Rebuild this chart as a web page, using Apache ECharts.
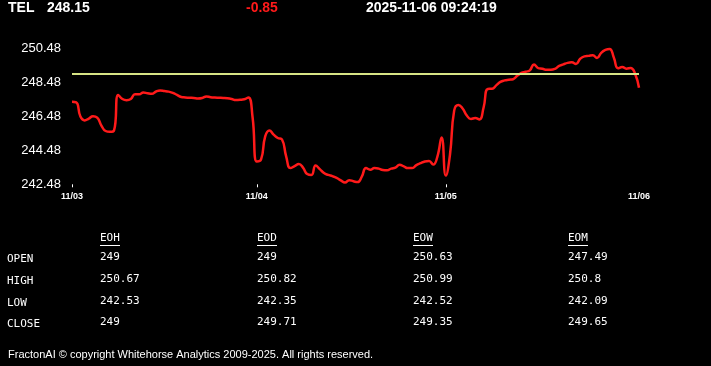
<!DOCTYPE html>
<html>
<head>
<meta charset="utf-8">
<script src="https://cdn.jsdelivr.net/npm/echarts@6/dist/echarts.min.js"></script>
<style>
html,body{margin:0;padding:0;background:#000;}
#chart{width:711px;height:366px;}
</style>
</head>
<body>
<div id="chart"></div>
<script>
// ---- data ----
const symbol = 'TEL';
const lastPrice = '248.15';
const change = '-0.85';
const timestamp = '2025-11-06 09:24:19';
const openLevel = 249;

const dayLabels = ['11/03', '11/04', '11/05', '11/06'];
const dayIndex = [0, 44, 89, 135];
const tickIndex = [0, 44, 89];

const prices = [
  247.32, 247.29, 246.46, 246.23, 246.34, 246.48, 246.40, 245.93, 245.61, 245.56,
  245.64, 247.73, 247.49, 247.42, 247.49, 247.76, 247.76, 247.87, 247.82, 247.79,
  247.93, 247.99, 247.96, 247.92, 247.85, 247.73, 247.61, 247.58, 247.56, 247.55,
  247.52, 247.55, 247.64, 247.59, 247.57, 247.56, 247.55, 247.53, 247.49, 247.43,
  247.44, 247.47, 247.58, 246.40, 243.82, 243.93, 245.29, 245.64, 245.40, 245.20,
  245.11, 244.11, 243.43, 243.55, 243.67, 243.46, 243.08, 243.02, 243.58, 243.37,
  243.14, 243.03, 242.96, 242.86, 242.71, 242.58, 242.72, 242.66, 242.61, 242.93,
  243.43, 243.34, 243.43, 243.40, 243.32, 243.30, 243.40, 243.46, 243.63, 243.53,
  243.43, 243.43, 243.61, 243.72, 243.82, 243.85, 243.64, 244.11, 245.23, 242.99,
  244.23, 246.82, 247.14, 246.93, 246.52, 246.32, 246.37, 246.29, 246.99, 248.08,
  248.09, 248.29, 248.49, 248.58, 248.62, 248.65, 248.85, 249.02, 249.09, 249.17,
  249.52, 249.30, 249.27, 249.20, 249.20, 249.26, 249.43, 249.52, 249.61, 249.64,
  249.55, 249.85, 249.99, 250.02, 250.05, 249.90, 250.20, 250.37, 250.43, 249.93,
  249.29, 249.37, 249.27, 249.31, 249.02, 248.15
];

const yTickLabels = [242.48, 244.48, 246.48, 248.48, 250.48];
const yMin = 242.48;
const yMax = 250.70;

const tableCols = ['EOH', 'EOD', 'EOW', 'EOM'];
const rowNames = ['OPEN', 'HIGH', 'LOW', 'CLOSE'];
const eohVals = ['249', '250.67', '242.53', '249'];
const eodVals = ['249', '250.82', '242.35', '249.71'];
const eowVals = ['250.63', '250.99', '242.52', '249.35'];
const eomVals = ['247.49', '250.8', '242.09', '249.65'];
const footer = 'FractonAI \u00A9 copyright Whitehorse Analytics 2009-2025. All rights reserved.';

// ---- build ----
const categories = prices.map((_, i) => {
  const d = dayIndex.indexOf(i);
  return d >= 0 ? dayLabels[d] : '';
});

const colVals = [eohVals, eodVals, eowVals, eomVals];
const colX = [100, 257, 413, 568];
const rowY = [259, 281, 303, 324];
const mono = '"DejaVu Sans Mono", monospace';
const graphics = [];
tableCols.forEach((c, i) => {
  graphics.push({type: 'text', left: colX[i], top: 233, style: {text: c, fill: '#fff', font: '11px ' + mono}});
  graphics.push({type: 'line', shape: {x1: colX[i], y1: 245.5, x2: colX[i] + 20, y2: 245.5}, style: {stroke: '#fff', lineWidth: 1}});
  colVals[i].forEach((v, r) => {
    graphics.push({type: 'text', left: colX[i], top: rowY[r] - 7, style: {text: v, fill: '#fff', font: '11px ' + mono}});
  });
});
rowNames.forEach((n, r) => {
  graphics.push({type: 'text', left: 7, top: rowY[r] - 5, style: {text: n, fill: '#fff', font: '11px ' + mono}});
});
graphics.push({type: 'text', left: 8, top: 349, style: {text: footer, fill: '#fff', font: '11px "Liberation Sans", Arial, sans-serif'}});

const headFont = {color: '#fff', fontSize: 14, fontWeight: 'bold', fontFamily: '"Liberation Sans", Arial, sans-serif'};

const chart = echarts.init(document.getElementById('chart'));
chart.setOption({
  backgroundColor: '#000',
  animation: false,
  title: [
    {text: symbol, left: 8, top: 1, padding: 0, textStyle: headFont},
    {text: lastPrice, left: 47, top: 1, padding: 0, textStyle: headFont},
    {text: change, left: 246, top: 1, padding: 0, textStyle: Object.assign({}, headFont, {color: '#ff1a1a'})},
    {text: timestamp, left: 366, top: 1, padding: 0, textStyle: headFont}
  ],
  grid: {left: 72, right: 72, top: 44.3, bottom: 181.7, containLabel: false},
  xAxis: {
    type: 'category',
    data: categories,
    boundaryGap: false,
    axisLine: {show: false},
    axisTick: {show: true, length: 3, interval: (i) => tickIndex.indexOf(i) >= 0, lineStyle: {color: '#fff', width: 1}},
    axisLabel: {interval: 0, margin: 8, color: '#fff', fontSize: 9, fontWeight: 'bold', fontFamily: '"Liberation Sans", Arial, sans-serif'},
    splitLine: {show: false}
  },
  yAxis: {
    type: 'value',
    min: yMin,
    max: yMax,
    interval: 0.08,
    axisLine: {show: false},
    axisTick: {show: false},
    splitLine: {show: false},
    axisLabel: {
      margin: 11,
      color: '#fff',
      fontSize: 13,
      fontFamily: '"Liberation Sans", Arial, sans-serif',
      formatter: (v) => yTickLabels.some(t => Math.abs(t - v) < 1e-6) ? v.toFixed(2) : ''
    }
  },
  series: [{
    type: 'line',
    data: prices,
    smooth: 0.5,
    showSymbol: false,
    lineStyle: {color: '#ff1a1a', width: 2.5},
    markLine: {
      silent: true,
      symbol: ['none', 'none'],
      label: {show: false},
      lineStyle: {color: '#d6e384', width: 2, type: 'solid'},
      data: [{yAxis: openLevel}]
    },
    z: 3
  }],
  graphic: graphics
});
</script>
</body>
</html>
